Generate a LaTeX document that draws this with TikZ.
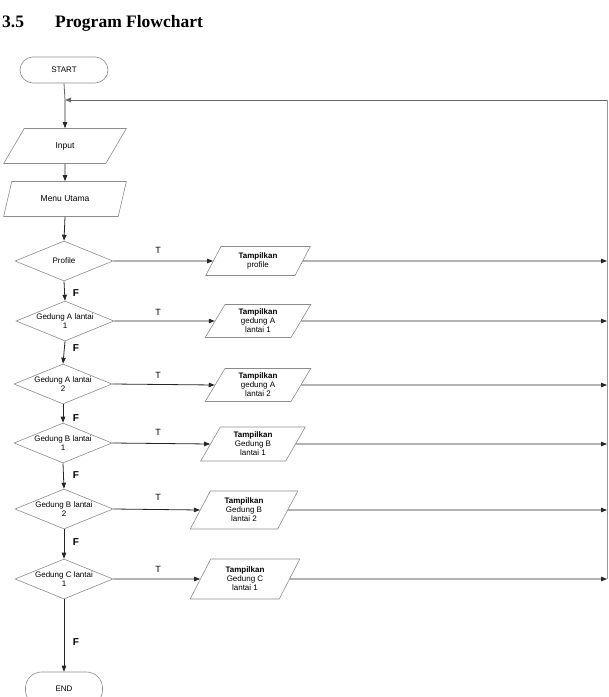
\documentclass[tikz,border=0pt]{standalone}
\usepackage{fontspec}
\setmainfont{Liberation Serif}
\newfontfamily\arialf{Liberation Sans}
\usetikzlibrary{shapes.geometric,arrows.meta}
\tikzset{
  shapeline/.style={draw=black!45, line width=0.6pt},
  term/.style={shapeline, rectangle, rounded corners=13pt, minimum width=88pt, minimum height=26pt, inner sep=0pt, font=\arialf\fontsize{8}{9}\selectfont},
  inbox/.style={shapeline, trapezium, trapezium left angle=58, trapezium right angle=122, trapezium stretches=true, minimum width=123pt, minimum height=35pt, inner sep=0pt, font=\arialf\fontsize{8.5}{10}\selectfont},
  outbox/.style={shapeline, trapezium, trapezium left angle=64, trapezium right angle=116, trapezium stretches=true, minimum width=106pt, minimum height=33pt, inner sep=0pt, align=center, font=\arialf\fontsize{8}{9}\selectfont},
  decision/.style={shapeline, diamond, minimum width=98pt, minimum height=40pt, inner sep=0pt},
  dtext/.style={align=center, inner sep=0pt, font=\arialf\fontsize{8}{9}\selectfont},
  flow/.style={draw=black!85, line width=0.8pt, -{Triangle[length=6pt,width=4.5pt]}},
  plain/.style={draw=black!60, line width=0.8pt},
  tlab/.style={font=\arialf\fontsize{9}{10}\selectfont},
  flab/.style={font=\arialf\bfseries\fontsize{10}{11}\selectfont}
}
\begin{document}
\begin{tikzpicture}[x=1pt,y=-1pt]
\useasboundingbox (0,0) rectangle (609,697);
\node[anchor=base west, inner sep=0pt, font=\bfseries\fontsize{17.5}{20}\selectfont] (title) at (2,27) {3.5\hspace{31pt}Program Flowchart};

\node[term] (start) at (64,70) {START};
\node[inbox] (input) at (65,146) {Input};
\node[inbox] (menu) at (65,199) {Menu Utama};

\node[decision, label={[dtext]center:Profile}] (d1) at (64,261) {};
\node[decision, label={[dtext]center:Gedung A lantai\\1}] (d2) at (65,321) {};
\node[decision, label={[dtext]center:Gedung A lantai\\2}] (d3) at (63,384) {};
\node[decision, label={[dtext]center:Gedung B lantai\\1}] (d4) at (63,443) {};
\node[decision, label={[dtext]center:Gedung B lantai\\2}] (d5) at (64,509) {};
\node[decision, label={[dtext]center:Gedung C lantai\\1}] (d6) at (64,579) {};

\node[outbox, minimum height=29pt, minimum width=105pt] (o1) at (258,261) {\textbf{Tampilkan}\\profile};
\node[outbox] (o2) at (258,321) {\textbf{Tampilkan}\\gedung A\\lantai 1};
\node[outbox] (o3) at (258,385) {\textbf{Tampilkan}\\gedung A\\lantai 2};
\node[outbox, minimum height=34pt, minimum width=105pt] (o4) at (253,444) {\textbf{Tampilkan}\\Gedung B\\lantai 1};
\node[outbox, minimum height=38pt, minimum width=108pt] (o5) at (244,510) {\textbf{Tampilkan}\\Gedung B\\lantai 2};
\node[outbox, minimum height=40pt, minimum width=110pt] (o6) at (245,579) {\textbf{Tampilkan}\\Gedung C\\lantai 1};

\node[term, minimum width=77pt, minimum height=34pt, rounded corners=16pt] (end) at (64,689) {END};

% right side coordinates
\coordinate (rtop) at (607,100);
\coordinate (ltop) at (65,100);
\coordinate (r1) at (607,261);
\coordinate (r2) at (607,321);
\coordinate (r3) at (607,385);
\coordinate (r4) at (607,444);
\coordinate (r5) at (607,510);
\coordinate (r6) at (607,579);

% main spine
\draw[plain] (start.south) -- (ltop);
\draw[flow] (ltop) -- (input.north);
\draw[flow] (input.south) -- (menu.north);
\draw[flow] (menu.south) -- (d1.north);
\draw[flow] (d1.south) -- (d2.north);
\draw[flow] (d2.south) -- (d3.north);
\draw[flow] (d3.south) -- (d4.north);
\draw[flow] (d4.south) -- (d5.north);
\draw[flow] (d5.south) -- (d6.north);
\draw[flow] (d6.south) -- (end.north);

% T branches
\draw[flow] (d1.east) -- (o1.west);
\draw[flow] (d2.east) -- (o2.west);
\draw[flow] (d3.east) -- (o3.west);
\draw[flow] (d4.east) -- (o4.west);
\draw[flow] (d5.east) -- (o5.west);
\draw[flow] (d6.east) -- (o6.west);

% to right return line
\draw[flow] (o1.east) -- (r1);
\draw[flow] (o2.east) -- (r2);
\draw[flow] (o3.east) -- (r3);
\draw[flow] (o4.east) -- (r4);
\draw[flow] (o5.east) -- (r5);
\draw[flow] (o6.east) -- (r6);

\draw[draw=black!40, line width=0.8pt] (r6) -- (rtop);
\draw[flow, draw=black!60] (rtop) -- (ltop);

% labels
\node[tlab] (t1) at (158,250) {T};
\node[tlab] (t2) at (158,312) {T};
\node[tlab] (t3) at (158,375) {T};
\node[tlab] (t4) at (158,432) {T};
\node[tlab] (t5) at (158,497) {T};
\node[tlab] (t6) at (158,569) {T};

\node[flab] (f1) at (76,293) {F};
\node[flab] (f2) at (76,348) {F};
\node[flab] (f3) at (76,418) {F};
\node[flab] (f4) at (76,475) {F};
\node[flab] (f5) at (76,542) {F};
\node[flab] (f6) at (76,642) {F};
\end{tikzpicture}
\end{document}
